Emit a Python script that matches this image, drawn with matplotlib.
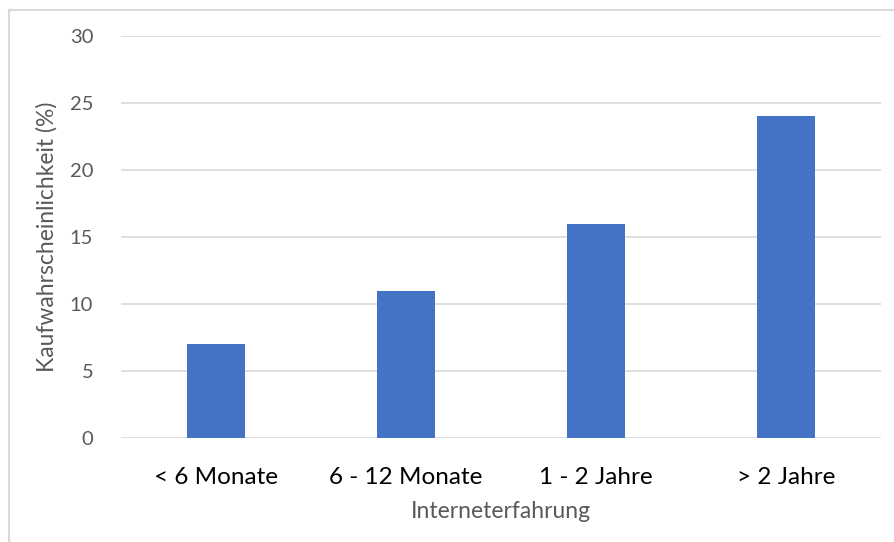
import matplotlib
matplotlib.use("Agg")
import matplotlib.pyplot as plt
from matplotlib.lines import Line2D

# data
categories = ['< 6 Monate', '6 - 12 Monate', '1 - 2 Jahre', '> 2 Jahre']
values = [7, 11, 16, 24]
yticks = [0, 5, 10, 15, 20, 25, 30]

plt.rcParams['font.family'] = ['Lato', 'DejaVu Sans']

fig = plt.figure(figsize=(8.95, 5.42), dpi=100)
W, H = 895, 542
ax = fig.add_axes([121 / W, 1 - 438 / H, 760 / W, (438 - 36) / H])

# outer chart border (only top and left edges are inside the picture)
border = dict(transform=fig.transFigure, color='#d9d9d9', linewidth=1.5)
fig.lines.append(Line2D([9 / W, 1.0], [1 - 10 / H, 1 - 10 / H], **border))
fig.lines.append(Line2D([9 / W, 9 / W], [0.0, 1 - 10 / H], **border))

x = range(len(categories))
ax.bar(x, values, width=0.31, color='#4472c4', zorder=3)

ax.set_xlim(-0.5, len(categories) - 0.5)
ax.set_ylim(0, 30)
ax.set_yticks(yticks)
ax.set_xticks(list(x))
ax.set_xticklabels(categories, fontsize=17.5, color='#000000')
ax.tick_params(axis='y', length=0, pad=20, labelsize=14.5, labelcolor='#595959')
ax.tick_params(axis='x', length=0, pad=21)

ax.grid(axis='y', color='#d9d9d9', linewidth=1.2, zorder=0)
for s in ax.spines.values():
    s.set_visible(False)

ax.set_ylabel('Kaufwahrscheinlichkeit (%)', fontsize=16.5, color='#595959', labelpad=9)
ax.set_xlabel('Interneterfahrung', fontsize=16.5, color='#595959', labelpad=9)

fig.savefig('out.png', dpi=100)
